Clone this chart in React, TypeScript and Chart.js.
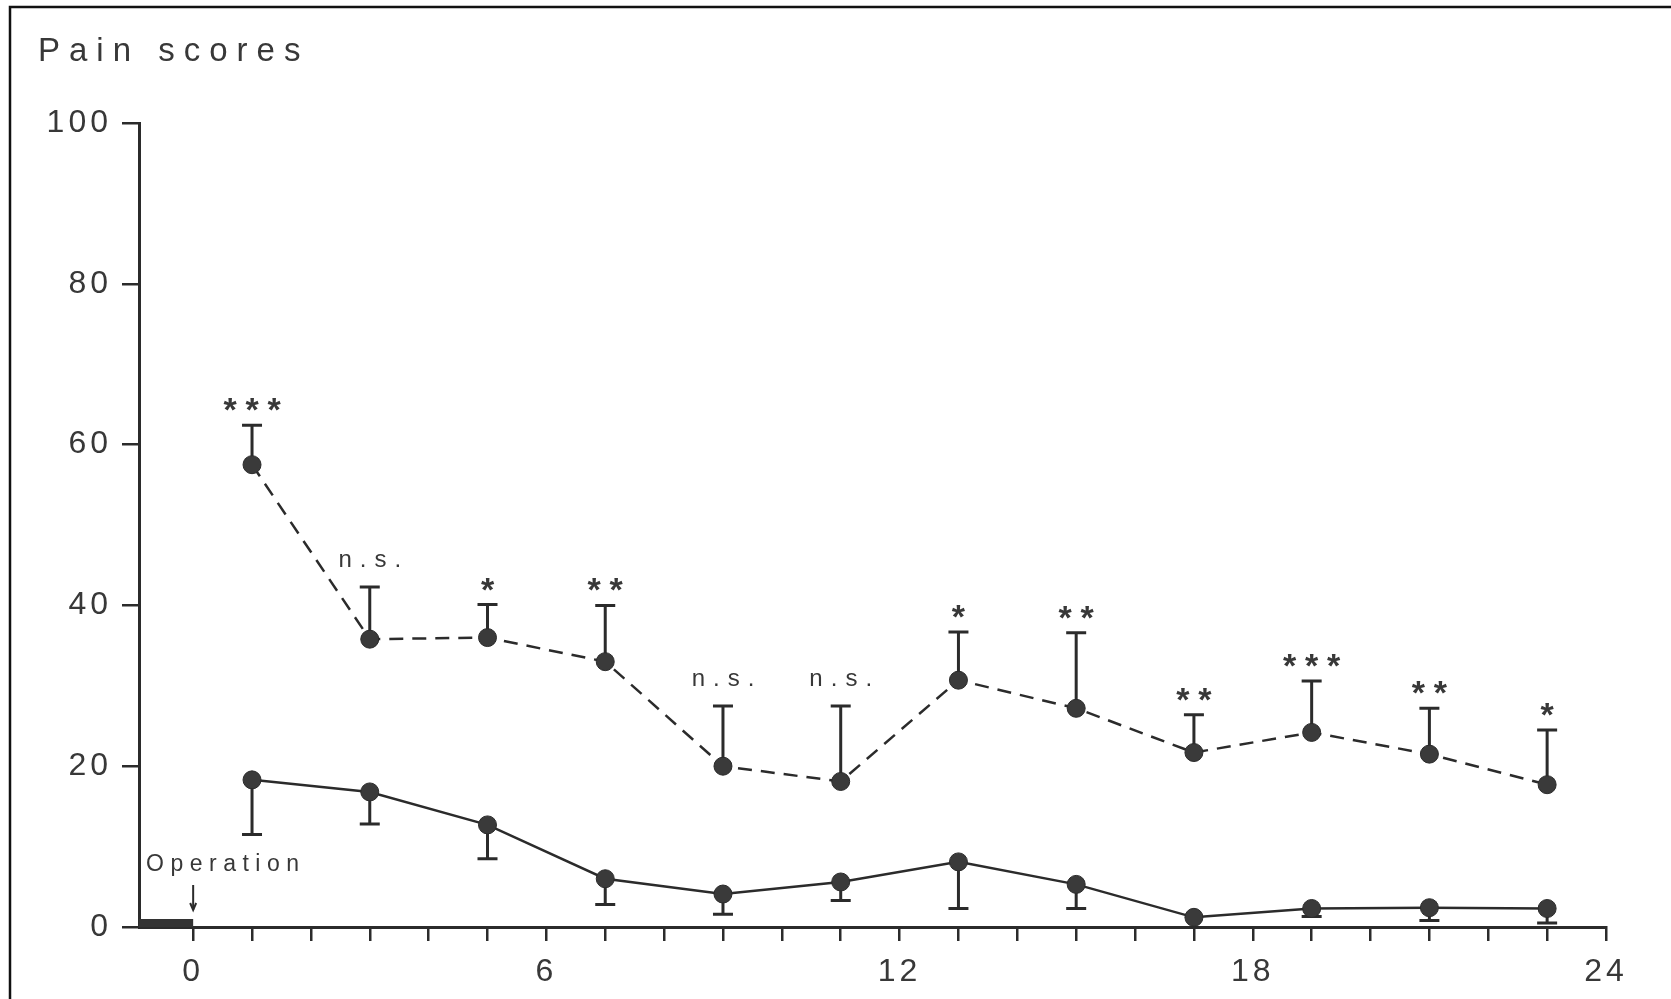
import React, { useEffect, useRef } from 'react';
import { Chart, registerables } from 'chart.js';

Chart.register(...registerables);

// Hours after the operation at which pain was scored
const hours = [1, 3, 5, 7, 9, 11, 13, 15, 17, 19, 21, 23];

// Dashed series: mean scores and the tops of their error bars
const controlScores = [57.5, 35.8, 36.0, 33.0, 20.0, 18.1, 30.7, 27.2, 21.7, 24.2, 21.5, 17.7];
const controlUpper = [62.4, 42.3, 40.1, 40.0, 27.5, 27.5, 36.7, 36.6, 26.4, 30.6, 27.2, 24.5];

// Solid series: mean scores and the bottoms of their error bars
const treatedScores = [18.3, 16.8, 12.7, 6.0, 4.1, 5.6, 8.1, 5.3, 1.2, 2.3, 2.4, 2.3];
const treatedLower = [11.5, 12.8, 8.5, 2.8, 1.6, 3.3, 2.3, 2.3, 1.2, 1.3, 0.8, 0.5];

// Significance marks printed above the dashed series
const significance = ['***', 'n.s.', '*', '**', 'n.s.', 'n.s.', '*', '**', '**', '***', '**', '*'];

// Axis ticks
const yTicks = [0, 20, 40, 60, 80, 100];
const xTickHours = [0, 1, 2, 3, 4, 5, 6, 7, 8, 9, 10, 11, 12, 13, 14, 15, 16, 17, 18, 19, 20, 21, 22, 23, 24];
const xLabelHours = [0, 6, 12, 18, 24];

// Axis range and the operation period drawn as a bar on the time axis
const xMin = -0.92;
const xMax = 24;
const operationPeriod = [xMin, 0];

const INK = '#2b2b2b';
const TEXT = '#383838';
const FONT = "'Liberation Sans', Arial, Helvetica, sans-serif";

const decorations = {
  id: 'decorations',
  beforeDraw(chart: any) {
    const ctx = chart.ctx;
    ctx.save();
    ctx.fillStyle = '#ffffff';
    ctx.fillRect(0, 0, chart.width, chart.height);
    // frame lines along the top and left edges
    ctx.strokeStyle = '#111';
    ctx.lineWidth = 2.5;
    ctx.beginPath();
    ctx.moveTo(10, chart.height);
    ctx.lineTo(10, 7);
    ctx.lineTo(chart.width, 7);
    ctx.stroke();
    // axis title
    ctx.fillStyle = TEXT;
    ctx.font = `33px ${FONT}`;
    (ctx as any).letterSpacing = '9px';
    ctx.textAlign = 'left';
    ctx.textBaseline = 'alphabetic';
    ctx.fillText('Pain scores', 38, 61);
    ctx.restore();
    // tick labels are drawn with wide spacing
    (ctx as any).letterSpacing = '4px';
  },
  beforeDatasetsDraw(chart: any) {
    const ctx = chart.ctx;
    const xs = chart.scales.x;
    const ys = chart.scales.y;
    ctx.save();
    (ctx as any).letterSpacing = '0px';
    ctx.strokeStyle = INK;
    ctx.lineWidth = 3;
    const cap = 10;
    hours.forEach((h, i) => {
      const x = xs.getPixelForValue(h);
      const y0 = ys.getPixelForValue(controlScores[i]);
      const y1 = ys.getPixelForValue(controlUpper[i]);
      ctx.beginPath();
      ctx.moveTo(x, y0);
      ctx.lineTo(x, y1);
      ctx.moveTo(x - cap, y1);
      ctx.lineTo(x + cap, y1);
      ctx.stroke();
      if (treatedLower[i] < treatedScores[i]) {
        const t0 = ys.getPixelForValue(treatedScores[i]);
        const t1 = ys.getPixelForValue(treatedLower[i]);
        ctx.beginPath();
        ctx.moveTo(x, t0);
        ctx.lineTo(x, t1);
        ctx.moveTo(x - cap, t1);
        ctx.lineTo(x + cap, t1);
        ctx.stroke();
      }
    });
    // operation period bar sitting on the time axis
    const axisY = ys.getPixelForValue(0);
    const bx0 = xs.getPixelForValue(operationPeriod[0]);
    const bx1 = xs.getPixelForValue(operationPeriod[1]);
    ctx.fillStyle = '#333';
    ctx.fillRect(bx0, axisY - 8, bx1 - bx0, 8);
    // operation arrow
    const ax = xs.getPixelForValue(0);
    ctx.lineWidth = 2;
    ctx.beginPath();
    ctx.moveTo(ax, axisY - 42);
    ctx.lineTo(ax, axisY - 17);
    ctx.stroke();
    ctx.beginPath();
    ctx.moveTo(ax - 3, axisY - 24);
    ctx.lineTo(ax, axisY - 17);
    ctx.lineTo(ax + 3, axisY - 24);
    ctx.stroke();
    ctx.fillStyle = TEXT;
    ctx.font = `23px ${FONT}`;
    (ctx as any).letterSpacing = '6.5px';
    ctx.textAlign = 'left';
    ctx.textBaseline = 'alphabetic';
    ctx.fillText('Operation', chart.chartArea.left + 7, axisY - 56);
    ctx.restore();
  },
  afterDatasetsDraw(chart: any) {
    const ctx = chart.ctx;
    const xs = chart.scales.x;
    const ys = chart.scales.y;
    ctx.save();
    ctx.fillStyle = TEXT;
    ctx.textAlign = 'center';
    ctx.textBaseline = 'alphabetic';
    hours.forEach((h, i) => {
      const x = xs.getPixelForValue(h);
      const capY = ys.getPixelForValue(controlUpper[i]);
      const mark = significance[i];
      if (mark === 'n.s.') {
        ctx.font = `24px ${FONT}`;
        (ctx as any).letterSpacing = '8px';
        ctx.fillText(mark, x + 4, capY - 20);
      } else {
        ctx.font = `bold 34px ${FONT}`;
        (ctx as any).letterSpacing = '0px';
        const pitch = 22;
        const n = mark.length;
        for (let k = 0; k < n; k++) {
          const cx = x + (k - (n - 1) / 2) * pitch;
          ctx.fillText('*', cx, capY - 4);
        }
      }
    });
    ctx.restore();
  },
};

export default function App() {
  const canvasRef = useRef<HTMLCanvasElement | null>(null);

  useEffect(() => {
    const canvas = canvasRef.current;
    if (!canvas) return;
    const chart = new Chart(canvas, {
      type: 'line',
      data: {
        datasets: [
          {
            label: 'control',
            data: hours.map((h, i) => ({ x: h, y: controlScores[i] })),
            borderColor: INK,
            borderWidth: 2.5,
            borderDash: [14, 9],
            pointRadius: 9,
            pointBackgroundColor: '#3a3a3a',
            pointBorderColor: INK,
            pointBorderWidth: 1,
            tension: 0,
          },
          {
            label: 'treated',
            data: hours.map((h, i) => ({ x: h, y: treatedScores[i] })),
            borderColor: INK,
            borderWidth: 2.5,
            pointRadius: 9,
            pointBackgroundColor: '#3a3a3a',
            pointBorderColor: INK,
            pointBorderWidth: 1,
            tension: 0,
          },
        ],
      },
      options: {
        animation: false,
        responsive: false,
        devicePixelRatio: 1,
        layout: { padding: { top: 123, right: 65, left: 0, bottom: 0 } },
        plugins: {
          legend: { display: false },
          tooltip: { enabled: false },
        },
        scales: {
          x: {
            type: 'linear',
            min: xMin,
            max: xMax,
            afterBuildTicks: (axis: any) => {
              axis.ticks = xTickHours.map((v) => ({ value: v }));
            },
            afterFit: (axis: any) => {
              axis.height = 72;
            },
            ticks: {
              autoSkip: false,
              maxRotation: 0,
              padding: 12,
              color: TEXT,
              font: { family: FONT, size: 32 },
              callback: (v: any) => (xLabelHours.includes(Number(v)) ? String(v) : ''),
            },
            grid: {
              drawOnChartArea: false,
              drawTicks: true,
              tickLength: 14,
              color: INK,
              lineWidth: 2.5,
            },
            border: { display: true, color: INK, width: 3 },
          },
          y: {
            type: 'linear',
            min: 0,
            max: 100,
            afterBuildTicks: (axis: any) => {
              axis.ticks = yTicks.map((v) => ({ value: v }));
            },
            afterFit: (axis: any) => {
              axis.width = 139;
            },
            ticks: {
              padding: 10,
              color: TEXT,
              font: { family: FONT, size: 32 },
            },
            grid: {
              drawOnChartArea: false,
              drawTicks: true,
              tickLength: 17,
              color: INK,
              lineWidth: 2.5,
            },
            border: { display: true, color: INK, width: 3 },
          },
        },
      },
      plugins: [decorations],
    });
    return () => chart.destroy();
  }, []);

  return (
    <div style={{ position: 'absolute', left: 0, top: 0, width: 1671, height: 999, overflow: 'hidden', background: '#fff' }}>
      <canvas ref={canvasRef} width={1671} height={999} style={{ display: 'block' }} />
    </div>
  );
}
